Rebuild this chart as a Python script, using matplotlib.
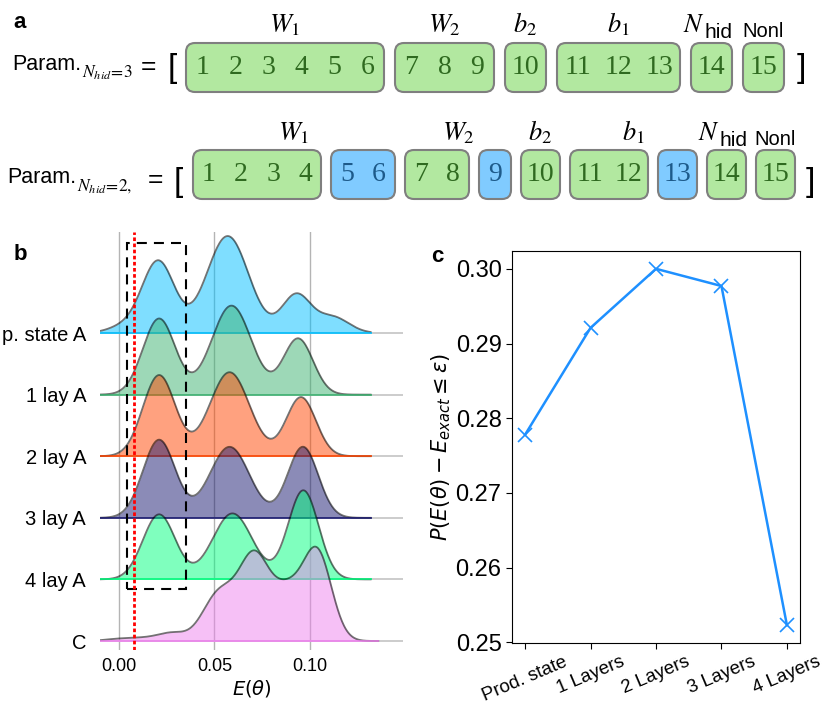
import numpy as np
import matplotlib
matplotlib.use('Agg')
import matplotlib.pyplot as plt
from matplotlib.patches import FancyBboxPatch, Rectangle

plt.rcParams['font.family'] = ['Liberation Sans', 'DejaVu Sans']

# ---------------- data ----------------
# panel a: parameter vector layout for N_hid = 3 and N_hid = 2
groups_3 = [[1, 2, 3, 4, 5, 6], [7, 8, 9], [10], [11, 12, 13], [14], [15]]
pruned_3 = [False] * 6
groups_2 = [[1, 2, 3, 4], [5, 6], [7, 8], [9], [10], [11, 12], [13], [14], [15]]
pruned_2 = [False, True, False, True, False, False, True, False, False]
block_names = [r'$W_1$', r'$W_2$', r'$b_2$', r'$b_1$', 'N_hid', 'Nonl']
blocks_3 = [(0, 0), (1, 1), (2, 2), (3, 3), (4, 4), (5, 5)]   # which boxes each name spans
blocks_2 = [(0, 1), (2, 3), (4, 4), (5, 6), (7, 7), (8, 8)]

rows = ['p. state A', '1 lay A', '2 lay A', '3 lay A', '4 lay A', 'C']
levels = [
    [0.002, 0.0205, 0.057, 0.093, 0.112],
    [0.021, 0.059, 0.094],
    [0.021, 0.058, 0.0955],
    [0.021, 0.058, 0.0965],
    [0.021, 0.0595, 0.0967],
    [0.000, 0.013, 0.028, 0.049, 0.057, 0.0705, 0.080, 0.089, 0.104],
]
heights = [
    [6, 72, 97, 38, 16],
    [76, 89, 56],
    [81, 84, 59],
    [78, 71, 71],
    [65, 66, 89],
    [2, 2.5, 8, 28, 28, 76, 15, 40, 88],
]
spreads = [
    [0.008, 0.0085, 0.011, 0.0075, 0.0085],
    [0.0085, 0.0105, 0.0078],
    [0.0085, 0.0105, 0.0078],
    [0.0085, 0.0105, 0.008],
    [0.0085, 0.0105, 0.008],
    [0.0075] * 9,
]
e_max = [0.132, 0.132, 0.132, 0.132, 0.132, 0.136]
ridge_colors = ['deepskyblue', 'mediumseagreen', 'orangered', 'midnightblue', 'springgreen', 'violet']
eps = 0.008
window = (0.004, 0.035)

# panel c
layers = ['Prod. state', '1 Layers', '2 Layers', '3 Layers', '4 Layers']
p_success = [0.2778, 0.2921, 0.3000, 0.2977, 0.2523]

fig = plt.figure(figsize=(8.3, 7.09), dpi=100)

# ---------------- panel a ----------------
axa = fig.add_axes([0, 1 - 210 / 709, 1, 210 / 709])
axa.set_xlim(0, 830)
axa.set_ylim(210, 0)
axa.axis('off')


def draw_row(groups, pruned, blocks, x0, yc, s1, s2, gap, ylab):
    h = 49
    x = x0
    ext = []
    for g, p in zip(groups, pruned):
        slots = [s1 if v < 10 else s2 for v in g]
        w = sum(slots)
        face = '#80cbff' if p else '#b2e8a0'
        tc = '#1d5a8a' if p else '#2f6a20'
        axa.add_patch(FancyBboxPatch((x, yc - h / 2), w, h,
                                     boxstyle='round,pad=0,rounding_size=9',
                                     fc=face, ec='#7f7f7f', lw=1.5))
        cx = x
        for v, s in zip(g, slots):
            axa.text(cx + s / 2, yc, str(v), ha='center', va='center', fontsize=20,
                     family='Liberation Serif', color=tc)
            cx += s
        ext.append((x, x + w))
        x += w + gap
    for name, (i, j) in zip(block_names, blocks):
        xm = (ext[i][0] + ext[j][1]) / 2
        if name == 'Nonl':
            axa.text(xm, ylab + 5, name, ha='center', va='baseline', fontsize=14.5)
        elif name == 'N_hid':
            axa.text(xm - 7, ylab, r'$N$', ha='right', va='baseline', fontsize=19,
                     math_fontfamily='stix')
            axa.text(xm - 7, ylab + 6, 'hid', ha='left', va='baseline', fontsize=15)
        else:
            axa.text(xm, ylab, name, ha='center', va='baseline', fontsize=19,
                     math_fontfamily='stix')
    return x - gap


end3 = draw_row(groups_3, pruned_3, blocks_3, 186, 67.5, 33, 41, 11, 32)
end2 = draw_row(groups_2, pruned_2, blocks_2, 193, 174.5, 32, 39, 10, 140)

for yb, x0, sub, xeq, xbr, xend in [(70, 12, r'$N_{hid}\!=\!3$', 148, 172, end3 + 17),
                                    (183, 7, r'$N_{hid}\!=\!2,$', 155, 178, end2 + 15)]:
    t = axa.text(x0, yb, 'Param.', ha='left', va='baseline', fontsize=15.5)
    axa.text(x0 + 70, yb + 8, sub, ha='left', va='baseline', fontsize=12.5, math_fontfamily='stix')
    axa.text(xeq, yb - 3, '=', ha='center', va='center', fontsize=19)
    axa.text(xbr, yb - 1, '[', ha='center', va='center', fontsize=24)
    axa.text(xend, yb - 1, ']', ha='center', va='center', fontsize=24)

# ---------------- panel b ----------------
px_per_row = 61.6
axb = fig.add_axes([100 / 830, 59 / 709, 303 / 830, 418 / 709])
n = len(rows)
for k in range(n):
    base = n - 1 - k
    e = np.linspace(-0.01, e_max[k], 400)
    d = np.zeros_like(e)
    for c, hgt, sd in zip(levels[k], heights[k], spreads[k]):
        d += hgt * np.exp(-(e - c) ** 2 / (2 * sd ** 2))
    d = d / px_per_row
    axb.axhline(base, color='#c4c4c4', lw=1.2, zorder=1 + 3 * k)
    axb.fill_between(e, base, base + d, color=ridge_colors[k], alpha=0.5, lw=0, zorder=2 + 3 * k)
    axb.plot(e, base + d, color='k', alpha=0.55, lw=1.3, zorder=3 + 3 * k)
    axb.plot([e[0], e[-1]], [base, base], color=ridge_colors[k], lw=1.4, alpha=0.8, zorder=3 + 3 * k)

axb.add_patch(Rectangle((window[0], 0.844), window[1] - window[0], 6.46 - 0.844, fill=False,
                        ec='k', lw=1.5, ls=(0, (4.8, 3.4)), zorder=40))
axb.axvline(eps, color='red', lw=2, ls=(0, (1.3, 0.9)), zorder=41)

axb.set_xlim(-0.01, 0.149)
axb.set_ylim(-0.146, 6.64)
axb.set_xticks([0.0, 0.05, 0.10])
axb.set_xticklabels(['0.00', '0.05', '0.10'], fontsize=13)
axb.set_yticks(range(n - 1, -1, -1))
axb.set_yticklabels(rows, fontsize=14.5)
axb.tick_params(length=0, pad=6)
axb.tick_params(axis='y', pad=10)
axb.grid(axis='x', color='#b4b4b4', lw=1)
axb.set_axisbelow(True)
for s in axb.spines.values():
    s.set_visible(False)
axb.set_xlabel(r'$E(\theta)$', fontsize=14, labelpad=2)

# ---------------- panel c ----------------
axc = fig.add_axes([512 / 830, 66 / 709, 288 / 830, 392 / 709])
axc.plot(layers, p_success, color='dodgerblue', marker='x', ms=10, mew=1.2, lw=1.8)
axc.set_yticks([0.25, 0.26, 0.27, 0.28, 0.29, 0.30])
axc.tick_params(axis='y', labelsize=17, length=4)
axc.tick_params(axis='x', labelsize=13.5, length=4, labelrotation=23)
for lab in axc.get_xticklabels():
    lab.set_ha('center')
axc.set_ylabel(r'$P(E(\theta) - E_{exact} \leq \epsilon)$', fontsize=15, labelpad=2)

# panel letters
fig.text(20 / 830, 1 - 22 / 709, 'a', fontsize=16, weight='bold', ha='center', va='center')
fig.text(20 / 830, 1 - 255 / 709, 'b', fontsize=16, weight='bold', ha='center', va='center')
fig.text(437 / 830, 1 - 257 / 709, 'c', fontsize=16, weight='bold', ha='center', va='center')

fig.savefig('out.png', dpi=100)
